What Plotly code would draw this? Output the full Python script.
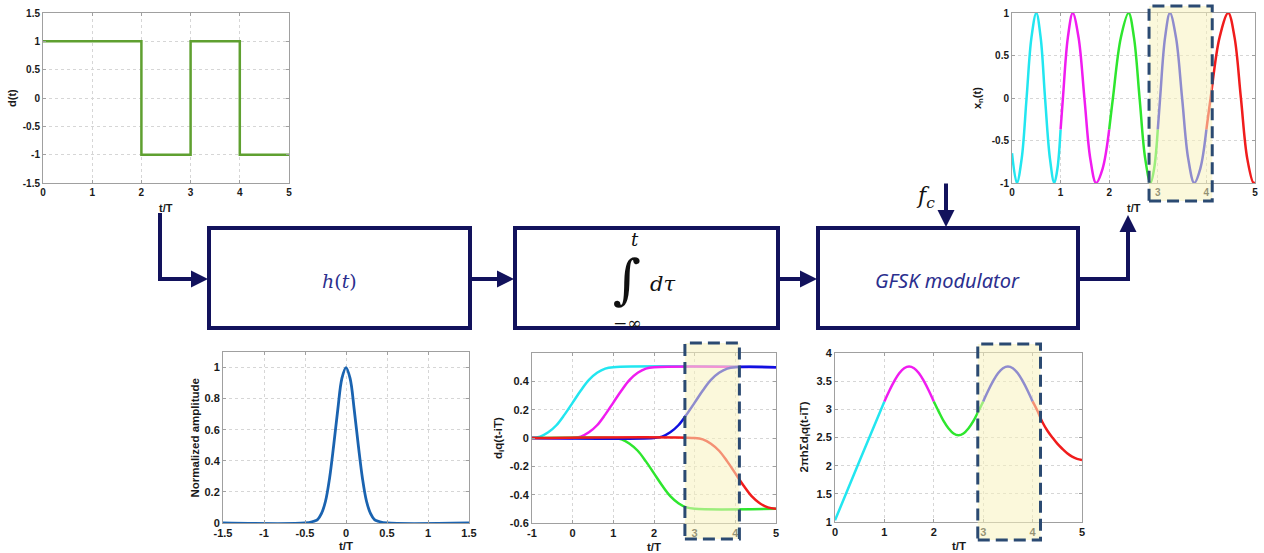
import plotly.graph_objects as go

W, H = 1264, 553

# ---------------- data ----------------
# d(t): bit sequence
d_t = [0, 2, 3, 4, 5]
d_v = [1, -1, 1, -1, -1]

# h(t): Gaussian pulse
h_t = [-1.5, -0.5, -0.4, -0.35, -0.3, -0.25, -0.2, -0.15, -0.1, -0.05, 0,
       0.05, 0.1, 0.15, 0.2, 0.25, 0.3, 0.35, 0.4, 0.5, 1.5]
h_v = [0, 0, 0.01, 0.02, 0.06, 0.14, 0.29, 0.5, 0.73, 0.93, 1,
       0.93, 0.73, 0.5, 0.29, 0.14, 0.06, 0.02, 0.01, 0, 0]

# d_i q(t - iT)
symbols = [1, 1, -1, 1, -1]
q_rel = [-1.0, -0.8, -0.6, -0.4, -0.2, 0, 0.2, 0.4, 0.6, 0.8, 1.0]
q_val = [0, 0.01, 0.04, 0.09, 0.165, 0.25, 0.335, 0.41, 0.46, 0.49, 0.5]

# phase 2*pi*h*sum d_i q(t - iT), one segment per symbol
ph_t = [
    [0, 0.5, 1],
    [1, 1.1, 1.2, 1.3, 1.4, 1.5, 1.6, 1.7, 1.8, 1.9, 2],
    [2, 2.1, 2.2, 2.3, 2.4, 2.5, 2.6, 2.7, 2.8, 2.9, 3],
    [3, 3.1, 3.2, 3.3, 3.4, 3.5, 3.6, 3.7, 3.8, 3.9, 4],
    [4, 4.1, 4.2, 4.3, 4.4, 4.5, 4.6, 4.7, 4.8, 4.9, 5],
]
ph_v = [
    [1.03, 2.09, 3.14],
    [3.14, 3.33, 3.50, 3.64, 3.73, 3.76, 3.73, 3.64, 3.50, 3.33, 3.14],
    [3.14, 2.96, 2.79, 2.66, 2.57, 2.54, 2.57, 2.66, 2.79, 2.96, 3.14],
    [3.14, 3.33, 3.50, 3.64, 3.73, 3.76, 3.73, 3.64, 3.50, 3.33, 3.14],
    [3.14, 2.97, 2.77, 2.62, 2.50, 2.39, 2.30, 2.22, 2.16, 2.12, 2.10],
]

# x_n(t): modulated signal, one segment per symbol
xn_t = [
    [0, 0.1, 0.2, 0.3, 0.4, 0.5, 0.59, 0.68, 0.78, 0.87, 0.935, 1.0],
    [1.0, 1.048, 1.149, 1.25, 1.37, 1.49, 1.61, 1.73, 1.865, 2.0],
    [2.0, 2.077, 2.239, 2.4, 2.51, 2.625, 2.74, 2.85, 2.925, 3.0],
    [3.0, 3.048, 3.149, 3.25, 3.375, 3.5, 3.625, 3.75, 3.875, 4.0],
    [4.0, 4.087, 4.27, 4.45, 4.58, 4.71, 4.84, 4.97, 5.0],
]
xn_v = [
    [-0.65, -1, -0.71, 0, 0.71, 1, 0.71, 0, -0.71, -1, -0.83, -0.37],
    [-0.37, 0, 0.71, 1, 0.71, 0, -0.71, -1, -0.83, -0.37],
    [-0.37, 0, 0.71, 1, 0.71, 0, -0.71, -1, -0.83, -0.37],
    [-0.37, 0, 0.71, 1, 0.71, 0, -0.71, -1, -0.83, -0.37],
    [-0.37, 0, 0.71, 1, 0.71, 0, -0.71, -1, -0.99],
]

# highlighted symbol window (t/T) in each plot
hl_xn = [2.82, 4.12]
hl_q = [2.76, 4.10]
hl_ph = [2.89, 4.16]

# tick labels
tk_d = [-1.5, -1, -0.5, 0, 0.5, 1, 1.5]
tk_d_txt = ["-1.5", "-1", "-0.5", "0", "0.5", "1", "1.5"]
tk_05 = [0, 1, 2, 3, 4, 5]
tk_05_txt = ["0", "1", "2", "3", "4", "5"]
tk_h_x = [-1.5, -1, -0.5, 0, 0.5, 1, 1.5]
tk_h_x_txt = ["-1.5", "-1", "-0.5", "0", "0.5", "1", "1.5"]
tk_h_y = [0, 0.2, 0.4, 0.6, 0.8, 1]
tk_h_y_txt = ["0", "0.2", "0.4", "0.6", "0.8", "1"]
tk_q_x = [-1, 0, 1, 2, 3, 4, 5]
tk_q_x_txt = ["-1", "0", "1", "2", "3", "4", "5"]
tk_q_y = [-0.6, -0.4, -0.2, 0, 0.2, 0.4]
tk_q_y_txt = ["-0.6", "-0.4", "-0.2", "0", "0.2", "0.4"]
tk_ph_y = [1, 1.5, 2, 2.5, 3, 3.5, 4]
tk_ph_y_txt = ["1", "1.5", "2", "2.5", "3", "3.5", "4"]
tk_xn_y = [-1, -0.5, 0, 0.5, 1]
tk_xn_y_txt = ["-1", "-0.5", "0", "0.5", "1"]

seg_colors = ["#22e6f0", "#f01cf0", "#2ee62e", "#1010e0", "#f01c1c"]

# ---------------- layout helpers ----------------
def px(x):
    return x / W

def py(y):
    return 1 - y / H

FONT = "Liberation Sans, Arial, sans-serif"
NAVY = "#12125c"

def axis(domain, rng, tv, tt, fs, anchor):
    return dict(domain=domain, range=rng, tickvals=tv, ticktext=tt, automargin=False,
                showgrid=True, gridcolor="#d6d6d6", griddash="dot", gridwidth=1,
                showline=True, linecolor="#a0a0a0", linewidth=1, mirror="ticks",
                ticks="inside", ticklen=3, tickcolor="#a0a0a0", zeroline=False,
                tickfont=dict(family=FONT, size=fs, color="#1a1a1a", weight="bold"),
                anchor=anchor, fixedrange=True)

fig = go.Figure()

# P1 d(t)
fig.add_trace(go.Scatter(x=d_t, y=d_v, mode="lines", line=dict(color="#5fa030", width=2.5, shape="hv"),
                         xaxis="x", yaxis="y", showlegend=False))
# P2 h(t)
fig.add_trace(go.Scatter(x=h_t, y=h_v, mode="lines", line=dict(color="#1a63b0", width=2.8, shape="spline"),
                         xaxis="x2", yaxis="y2", showlegend=False))
# P3 d_i q(t-iT)
for i, (s, c) in enumerate(zip(symbols, seg_colors)):
    tx = [i + r for r in q_rel]
    ty = [s * v for v in q_val]
    if tx[0] > -1:
        tx = [-1] + tx
        ty = [0] + ty
    if tx[-1] < 5:
        tx = tx + [5]
        ty = ty + [s * q_val[-1]]
    fig.add_trace(go.Scatter(x=tx, y=ty, mode="lines", line=dict(color=c, width=2.5, shape="spline"),
                             xaxis="x3", yaxis="y3", showlegend=False))
# P4 phase
for tx, ty, c in zip(ph_t, ph_v, seg_colors):
    fig.add_trace(go.Scatter(x=tx, y=ty, mode="lines", line=dict(color=c, width=2.5, shape="spline"),
                             xaxis="x4", yaxis="y4", showlegend=False))
# P5 x_n(t)
for tx, ty, c in zip(xn_t, xn_v, seg_colors):
    fig.add_trace(go.Scatter(x=tx, y=ty, mode="lines", line=dict(color=c, width=2.5, shape="spline"),
                             xaxis="x5", yaxis="y5", showlegend=False))

# plot areas (pixel boxes)
P1 = (43, 289, 13, 183)
P2 = (223, 469, 352, 523)
P3 = (532, 776, 353, 523)
P4 = (835, 1082, 353, 522)
P5 = (1012, 1255, 13, 183)

def dx(p):
    return [px(p[0]), px(p[1])]

def dy(p):
    return [py(p[3]), py(p[2])]

fig.update_layout(
    xaxis=axis(dx(P1), [0, 5], tk_05, tk_05_txt, 10, "y"),
    yaxis=axis(dy(P1), [-1.5, 1.5], tk_d, tk_d_txt, 10, "x"),
    xaxis2=axis(dx(P2), [-1.5, 1.5], tk_h_x, tk_h_x_txt, 11, "y2"),
    yaxis2=axis(dy(P2), [0, 1.1], tk_h_y, tk_h_y_txt, 11, "x2"),
    xaxis3=axis(dx(P3), [-1, 5], tk_q_x, tk_q_x_txt, 11, "y3"),
    yaxis3=axis(dy(P3), [-0.6, 0.6], tk_q_y, tk_q_y_txt, 11, "x3"),
    xaxis4=axis(dx(P4), [0, 5], tk_05, tk_05_txt, 11, "y4"),
    yaxis4=axis(dy(P4), [1, 4], tk_ph_y, tk_ph_y_txt, 11, "x4"),
    xaxis5=axis(dx(P5), [0, 5], tk_05, tk_05_txt, 10, "y5"),
    yaxis5=axis(dy(P5), [-1, 1], tk_xn_y, tk_xn_y_txt, 10, "x5"),
)

shapes = []
annotations = []

# highlight windows
def highlight(xr, xa, ya, p, top_px, bot_px):
    hgt = p[3] - p[2]
    y1 = (p[3] - top_px) / hgt
    y0 = (p[3] - bot_px) / hgt
    shapes.append(dict(type="rect", xref=xa, yref=ya + " domain", x0=xr[0], x1=xr[1], y0=y0, y1=y1,
                       fillcolor="rgba(247,242,190,0.55)", line=dict(color="#2b4a72", width=3, dash="12px,6px"),
                       layer="above"))

highlight(hl_xn, "x5", "y5", P5, 6, 201)
highlight(hl_q, "x3", "y3", P3, 343, 539)
highlight(hl_ph, "x4", "y4", P4, 344, 540)

# axis titles
def xtitle(xa, ya, text, shift, fs):
    annotations.append(dict(xref=xa + " domain", yref=ya + " domain", x=0.5, y=0, yshift=shift,
                            text=text, showarrow=False, yanchor="middle", xanchor="center",
                            font=dict(family=FONT, size=fs, color="#1a1a1a", weight="bold")))

def ytitle(xa, ya, text, shift, fs):
    annotations.append(dict(xref=xa + " domain", yref=ya + " domain", x=0, y=0.5, xshift=shift,
                            text=text, showarrow=False, textangle=-90, xanchor="center", yanchor="middle",
                            font=dict(family=FONT, size=fs, color="#1a1a1a", weight="bold")))

xtitle("x", "y", "t/T", -25, 11)
ytitle("x", "y", "d(t)", -31, 11)
xtitle("x5", "y5", "t/T", -25, 11)
ytitle("x5", "y5", "x<sub>n</sub>(t)", -34, 11)
xtitle("x2", "y2", "t/T", -23, 11.5)
ytitle("x2", "y2", "Normalized amplitude", -29, 11.5)
xtitle("x3", "y3", "t/T", -24, 11.5)
ytitle("x3", "y3", "d<sub>i</sub>q(t-iT)", -33, 11.5)
xtitle("x4", "y4", "t/T", -24, 11.5)
ytitle("x4", "y4", "2πhΣd<sub>i</sub>q(t-iT)", -31, 11.5)

# ---------------- block diagram ----------------
boxes = [(209, 470), (515, 778), (818, 1078)]
BY0, BY1 = 228, 328
for bx0, bx1 in boxes:
    shapes.append(dict(type="rect", xref="paper", yref="paper", x0=px(bx0), x1=px(bx1),
                       y0=py(BY1), y1=py(BY0), line=dict(color=NAVY, width=4), fillcolor="rgba(0,0,0,0)"))

def seg(x0, y0, x1, y1):
    shapes.append(dict(type="line", xref="paper", yref="paper", x0=px(x0), y0=py(y0), x1=px(x1), y1=py(y1),
                       line=dict(color=NAVY, width=4)))

def arrow(tx0, ty0, tipx, tipy):
    annotations.append(dict(xref="paper", yref="paper", x=px(tipx), y=py(tipy),
                            axref="pixel", ayref="pixel", ax=tx0 - tipx, ay=ty0 - tipy,
                            showarrow=True, arrowhead=2, arrowsize=0.85, arrowwidth=4,
                            arrowcolor=NAVY, text="", standoff=0))

AY = 279
seg(160, 213, 160, 281)
arrow(158, AY, 208, AY)
arrow(470, AY, 514, AY)
arrow(778, AY, 817, AY)
arrow(946, 182, 946, 227)
seg(1078, AY, 1130, AY)
arrow(1128, 281, 1128, 215)

TXTBLUE = "#2b2f8e"

def label(x, y, text, family, size, color):
    annotations.append(dict(xref="paper", yref="paper", x=px(x), y=py(y), text=text,
                            xanchor="center", yanchor="middle", showarrow=False,
                            font=dict(family=family, size=size, color=color)))

label(339, 281, "<i>h</i>(<i>t</i>)", "DejaVu Serif", 19, TXTBLUE)
label(947, 280, "<i>GFSK modulator</i>", "Noto Sans", 20, TXTBLUE)
label(627, 279, "∫", "DejaVu Serif", 54, "#111")
label(635, 239, "<i>t</i>", "DejaVu Serif", 18, "#111")
label(627, 323, "−∞", "DejaVu Serif", 17, "#111")
label(662, 284, "<i>dτ</i>", "DejaVu Serif", 21, "#111")
label(925, 198, "<i>f<sub>c</sub></i>", "DejaVu Serif", 22, "#111")

fig.update_layout(width=W, height=H, margin=dict(l=0, r=0, t=0, b=0),
                  paper_bgcolor="white", plot_bgcolor="white",
                  shapes=shapes, annotations=annotations, showlegend=False)

fig.write_html("out.html")
